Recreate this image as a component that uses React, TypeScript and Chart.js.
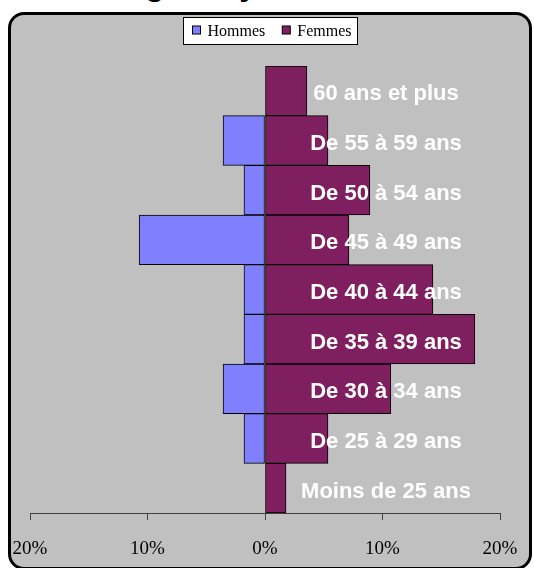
import React, { useEffect, useRef } from "react";
import { Chart, registerables } from "chart.js";

Chart.register(...registerables);

// age bands, top to bottom
const ageGroups = [
  "60 ans et plus",
  "De 55 à 59 ans",
  "De 50 à 54 ans",
  "De 45 à 49 ans",
  "De 40 à 44 ans",
  "De 35 à 39 ans",
  "De 30 à 34 ans",
  "De 25 à 29 ans",
  "Moins de 25 ans",
];
// share of staff in %, men drawn to the left
const hommes = [0, -3.57, -1.79, -10.71, -1.79, -1.79, -3.57, -1.79, 0];
const femmes = [3.57, 5.36, 8.93, 7.14, 14.29, 17.86, 10.71, 5.36, 1.79];
const xTickValues = [-20, -10, 0, 10, 20];
const xTickLabels = ["20%", "10%", "0%", "10%", "20%"];

const LABEL_AT = 10.3; // where the band names sit on the x scale
const SERIF = "'Liberation Serif', 'Times New Roman', serif";
const SANS = "'Liberation Sans', Arial, sans-serif";

const barLabels = {
  id: "barLabels",
  afterDatasetsDraw(chart: any) {
    const { ctx } = chart;
    const { x, y } = chart.scales;
    ctx.save();
    ctx.font = `bold 22px ${SANS}`;
    ctx.fillStyle = "#FFFFFF";
    ctx.textAlign = "center";
    ctx.textBaseline = "middle";
    chart.data.labels.forEach((lab: string, i: number) => {
      ctx.fillText(lab, x.getPixelForValue(LABEL_AT), y.getPixelForValue(i) + 3.5);
    });
    ctx.restore();
  },
};

const legendBox = {
  id: "legendBox",
  afterDraw(chart: any) {
    const { ctx } = chart;
    const sets = chart.data.datasets;
    ctx.save();
    ctx.font = `16px ${SERIF}`;
    const box = 9;
    const gap = 6;
    const itemGap = 17;
    const padL = 9;
    const padR = 6;
    const widths = sets.map((d: any) => ctx.measureText(d.label).width);
    const total =
      padL +
      widths.reduce((a: number, w: number) => a + box + gap + w, 0) +
      itemGap * (sets.length - 1) +
      padR;
    const left = Math.round(chart.width / 2 - total / 2) + 0.5;
    const top = 2.5;
    const h = 27;
    ctx.fillStyle = "#FFFFFF";
    ctx.fillRect(left, top, total, h);
    ctx.strokeStyle = "#000000";
    ctx.lineWidth = 1;
    ctx.strokeRect(left, top, total, h);

    let cx = left + padL;
    sets.forEach((d: any, i: number) => {
      ctx.fillStyle = d.backgroundColor;
      ctx.fillRect(cx, 11, box - 1, box - 1);
      ctx.strokeStyle = "#000000";
      ctx.strokeRect(cx, 11, box - 1, box - 1);
      ctx.fillStyle = "#000000";
      ctx.textBaseline = "alphabetic";
      ctx.textAlign = "left";
      ctx.fillText(d.label, cx + box + gap, 20.5);
      cx += box + gap + widths[i] + itemGap;
    });
    ctx.restore();
  },
};

const Pyramid: React.FC = () => {
  const chartRef = useRef<HTMLCanvasElement | null>(null);
  const chartInstance = useRef<Chart | null>(null);

  useEffect(() => {
    const ctx = chartRef.current;
    if (!ctx) return;
    if (chartInstance.current) chartInstance.current.destroy();

    chartInstance.current = new Chart(ctx, {
      type: "bar",
      data: {
        labels: ageGroups,
        datasets: [
          {
            label: "Hommes",
            data: hommes,
            backgroundColor: "#8080FF",
            borderColor: "#000000",
            borderWidth: 1,
            borderSkipped: false,
          },
          {
            label: "Femmes",
            data: femmes,
            backgroundColor: "#7F1F5F",
            borderColor: "#000000",
            borderWidth: 1,
            borderSkipped: false,
          },
        ],
      },
      options: {
        indexAxis: "y",
        responsive: true,
        maintainAspectRatio: false,
        animation: false,
        layout: { padding: { left: 19, right: 29, top: 51, bottom: 0 } },
        datasets: { bar: { barPercentage: 1, categoryPercentage: 1 } },
        plugins: {
          legend: { display: false },
          tooltip: { enabled: false },
        },
        scales: {
          x: {
            stacked: true,
            min: -20,
            max: 20,
            afterBuildTicks: (scale: any) => {
              scale.ticks = xTickValues.map((v) => ({ value: v }));
            },
            afterFit: (scale: any) => {
              scale.height = 52;
              // the end labels fit inside the layout padding already
              scale.paddingLeft = 0;
              scale.paddingRight = 0;
            },
            ticks: {
              color: "#000000",
              padding: 18,
              maxRotation: 0,
              font: { family: SERIF, size: 19 },
              callback: (_v: any, i: number) => xTickLabels[i],
            },
            grid: {
              drawOnChartArea: false,
              drawTicks: true,
              tickLength: 7,
              color: "#404040",
            },
            border: { color: "#404040", width: 1 },
          },
          y: {
            stacked: true,
            display: false,
          },
        },
      } as any,
      plugins: [barLabels, legendBox],
    });

    return () => {
      if (chartInstance.current) {
        chartInstance.current.destroy();
        chartInstance.current = null;
      }
    };
  }, []);

  return (
    <div style={{ position: "relative", width: 534, height: 568, overflow: "hidden" }}>
      <style>{"html{overflow:hidden} body{margin:0}"}</style>
      <div
        style={{
          position: "absolute",
          left: 122,
          top: -32,
          font: `bold 32px ${SANS}`,
          lineHeight: "32px",
          whiteSpace: "nowrap",
          color: "#000",
        }}
      >
        Âge moyen : 41 ans
      </div>
      <div
        style={{
          position: "absolute",
          left: 8,
          top: 12,
          width: 524,
          height: 558,
          boxSizing: "border-box",
          border: "3px solid #000",
          borderRadius: 16,
          background: "#C0C0C0",
          overflow: "hidden",
        }}
      >
        <div style={{ position: "absolute", left: 0, top: 0, width: 518, height: 550 }}>
          <canvas ref={chartRef}></canvas>
        </div>
      </div>
    </div>
  );
};

export default function App() {
  return <Pyramid />;
}
